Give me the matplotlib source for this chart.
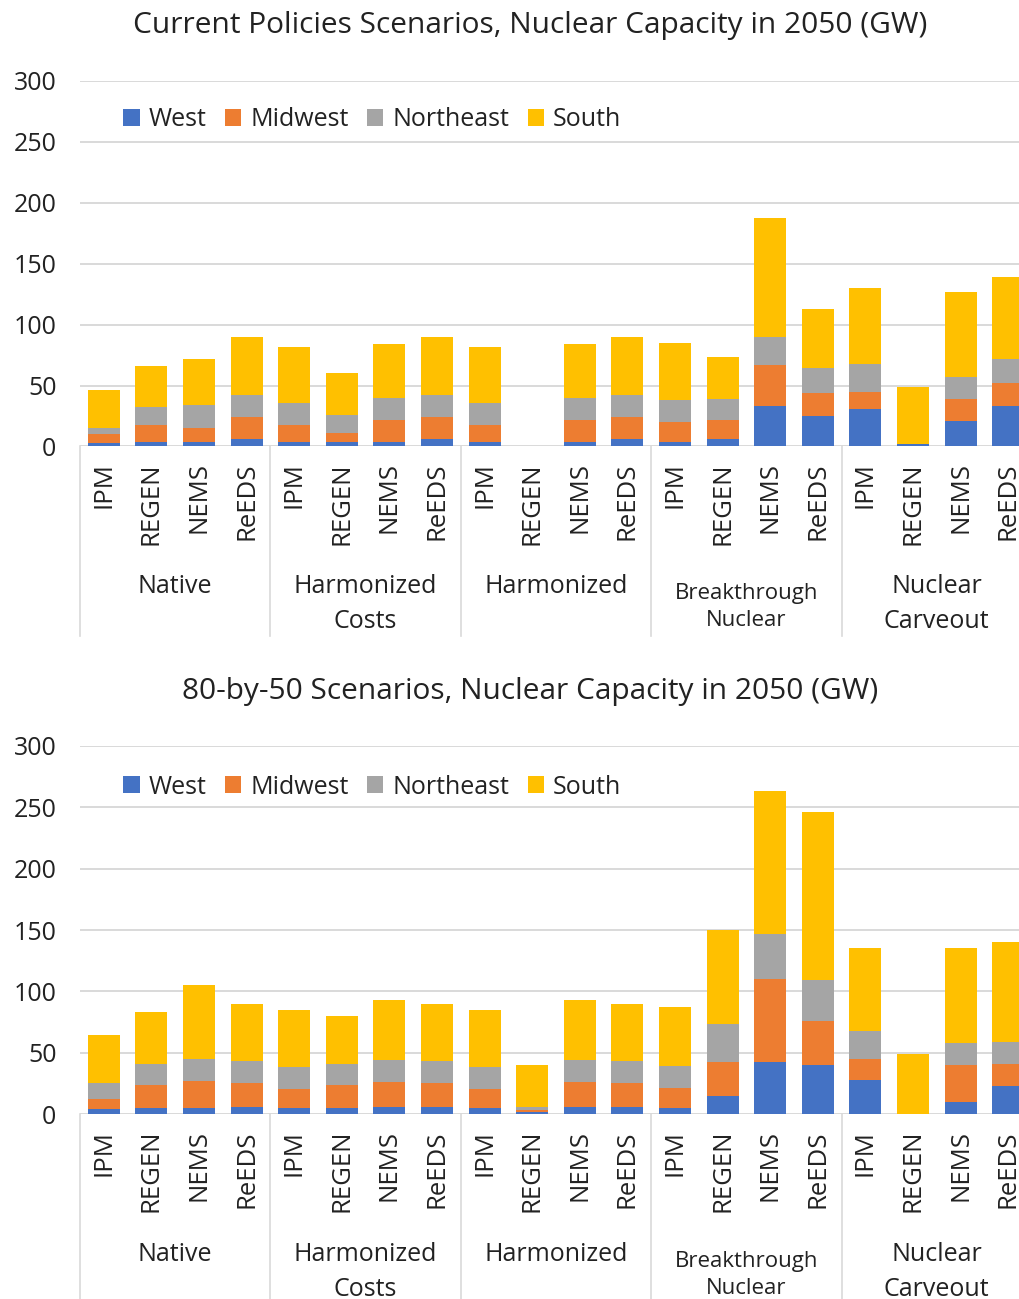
import matplotlib.pyplot as plt

plt.rcParams['font.family'] = ['Open Sans', 'DejaVu Sans']

# categorias del eje x
modelos = ['IPM', 'REGEN', 'NEMS', 'ReEDS']
grupos = ['Native', 'Harmonized\nCosts', 'Harmonized', 'Breakthrough\nNuclear', 'Nuclear\nCarveout']
regiones = ['West', 'Midwest', 'Northeast', 'South']
colores = ['#4472C4', '#ED7D31', '#A5A5A5', '#FFC000']

# Current Policies (GW), 5 grupos x 4 modelos
west_cp = [3, 4, 4, 6, 4, 4, 4, 6, 4, 0, 4, 6, 4, 6, 33, 25, 31, 2, 21, 33]
midwest_cp = [7, 14, 11, 18, 14, 7, 18, 18, 14, 0, 18, 18, 16, 16, 34, 19, 14, 0, 18, 19]
northeast_cp = [5, 14, 19, 18, 18, 15, 18, 18, 18, 0, 18, 18, 18, 17, 23, 20, 23, 0, 18, 20]
south_cp = [31, 34, 38, 48, 46, 34, 44, 48, 46, 0, 44, 48, 47, 34, 97, 49, 62, 47, 70, 67]

# 80-by-50 (GW)
west_80 = [4, 5, 5, 6, 5, 5, 6, 6, 5, 2, 6, 6, 5, 15, 42, 40, 28, 0, 10, 23]
midwest_80 = [8, 19, 22, 19, 15, 19, 20, 19, 15, 1, 20, 19, 16, 27, 68, 36, 17, 0, 30, 18]
northeast_80 = [13, 17, 18, 18, 18, 17, 18, 18, 18, 3, 18, 18, 18, 31, 37, 33, 23, 0, 18, 18]
south_80 = [39, 42, 60, 47, 47, 39, 49, 47, 47, 34, 49, 47, 48, 77, 116, 137, 67, 49, 77, 81]

W, H = 1020, 1299
fig = plt.figure(figsize=(W / 100, H / 100), dpi=100)
texto = '#222222'


def panel(y_cero, y_300, titulo, y_titulo, series, y_legend, largo_div):
    alto = y_cero - y_300
    ax = fig.add_axes([80 / W, 1 - y_cero / H, 952 / W, alto / H])
    n = len(modelos) * len(grupos)
    x = list(range(n))
    base = [0] * n
    for nombre, valores, color in zip(regiones, series, colores):
        ax.bar(x, valores, 0.67, bottom=base, color=color, label=nombre, zorder=2)
        base = [b + v for b, v in zip(base, valores)]

    ax.set_xlim(-0.5, n - 0.5)
    ax.set_ylim(0, 300)
    ax.set_yticks(range(0, 301, 50))
    ax.set_xticks([])
    ax.tick_params(axis='y', length=0, pad=17, labelsize=18, labelcolor=texto)
    ax.yaxis.grid(True, color='#d9d9d9', lw=1.4)
    ax.set_axisbelow(True)
    for s in ax.spines.values():
        s.set_visible(False)

    # etiquetas de modelo giradas
    for i in x:
        ax.annotate(modelos[i % 4], xy=(i, 0), xycoords=('data', 'axes fraction'),
                    xytext=(0, -16), textcoords='offset pixels', rotation=90,
                    ha='center', va='top', fontsize=18.5, color=texto)
    # separadores y nombres de grupo
    for g in range(len(grupos) + 1):
        ax.plot([g * 4 - 0.5] * 2, [0, -largo_div / alto], transform=ax.get_xaxis_transform(),
                color='#d9d9d9', lw=1.2, clip_on=False)
    for g, nombre in enumerate(grupos):
        chico = nombre.startswith('Breakthrough')
        ax.annotate(nombre, xy=(g * 4 + 1.5, 0), xycoords=('data', 'axes fraction'),
                    xytext=(0, -137 if chico else -128), textcoords='offset pixels',
                    ha='center', va='top', fontsize=16 if chico else 18, color=texto,
                    linespacing=1.35 if chico else 1.5)

    ax.legend(loc='center left', bbox_to_anchor=(0.022, (y_cero - y_legend) / alto),
              ncol=4, frameon=False, fontsize=18, handlelength=0.65, handleheight=0.65,
              handletextpad=0.35, columnspacing=0.75, labelcolor=texto)
    fig.text(530 / W, 1 - y_titulo / H, titulo, ha='center', va='center',
             fontsize=21.5, color=texto)
    return ax


panel(446.5, 80.7, 'Current Policies Scenarios, Nuclear Capacity in 2050 (GW)', 25,
      [west_cp, midwest_cp, northeast_cp, south_cp], 120, 190)
panel(1114, 746, '80-by-50 Scenarios, Nuclear Capacity in 2050 (GW)', 692,
      [west_80, midwest_80, northeast_80, south_80], 787, 190)

fig.savefig('out.png', dpi=100)
